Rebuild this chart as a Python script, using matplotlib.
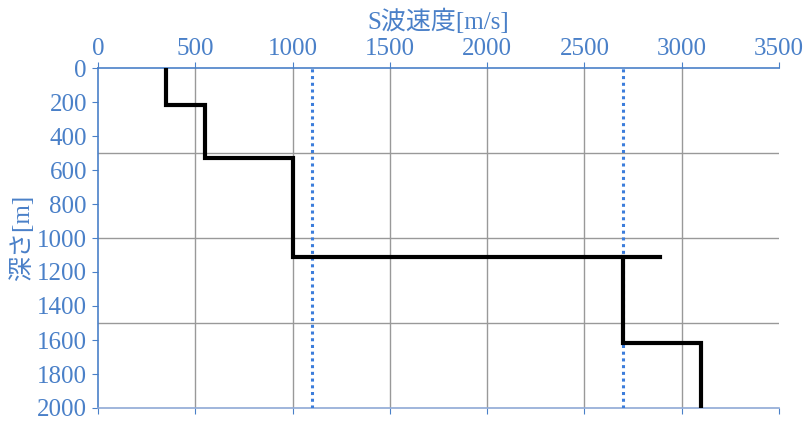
import matplotlib.pyplot as plt

# S-wave velocity profile (step model)
depth_top = [0, 220, 530, 1110, 1620]
depth_bot = [220, 530, 1110, 1620, 2000]
vs = [350, 550, 1000, 2700, 3100]
jump_end = 2890   # horizontal segment at 1110 m overshoots to here
ref_vs = [1100, 2700]

blue = '#4a80c8'
fam = ['Liberation Serif', 'Noto Sans CJK JP']
plt.rcParams['font.family'] = fam

fig = plt.figure(figsize=(8.1, 4.26), dpi=100)
ax = fig.add_axes([98 / 810, 18 / 426, 681 / 810, 340 / 426])

# build step line
xs, ys = [], []
for i in range(len(vs)):
    xs += [vs[i], vs[i]]
    ys += [depth_top[i], depth_bot[i]]
    if i == 2:
        xs += [jump_end]
        ys += [depth_bot[i]]

for v in ref_vs:
    ax.axvline(v, color='#3c7ddb', lw=2.2, ls=(0, (1, 1.2)), zorder=3)
ax.plot(xs[:7], ys[:7], color='black', lw=3, solid_joinstyle='miter', zorder=4)
ax.plot(xs[7:], ys[7:], color='black', lw=3, solid_joinstyle='miter', zorder=4)

ax.set_xlim(0, 3500)
ax.set_ylim(2000, 0)
ax.set_xticks(range(0, 3501, 500))
ax.set_yticks(range(0, 2001, 200))
ax.xaxis.tick_top()
ax.xaxis.set_label_position('top')
ax.tick_params(axis='x', colors=blue, labelsize=18, length=4, pad=2, top=True, bottom=True)
ax.tick_params(axis='y', colors=blue, labelsize=18, length=4, pad=4)
for lbl in ax.get_xticklabels() + ax.get_yticklabels():
    lbl.set_color(blue)

ax.set_xlabel('S波速度[m/s]', color=blue, fontsize=18, labelpad=6)
ax.set_ylabel('深さ[m]', color=blue, fontsize=18, labelpad=2)

for y in [500, 1000, 1500]:
    ax.axhline(y, color='#999999', lw=1, zorder=1)
for x in range(500, 3001, 500):
    ax.axvline(x, color='#999999', lw=1, zorder=1)

ax.spines['right'].set_visible(False)
ax.spines['left'].set_color(blue)
ax.spines['top'].set_color(blue)
ax.spines['bottom'].set_color('#8fa9d6')
for s in ['left', 'top', 'bottom']:
    ax.spines[s].set_linewidth(1.2)

fig.savefig('out.png', dpi=100)
